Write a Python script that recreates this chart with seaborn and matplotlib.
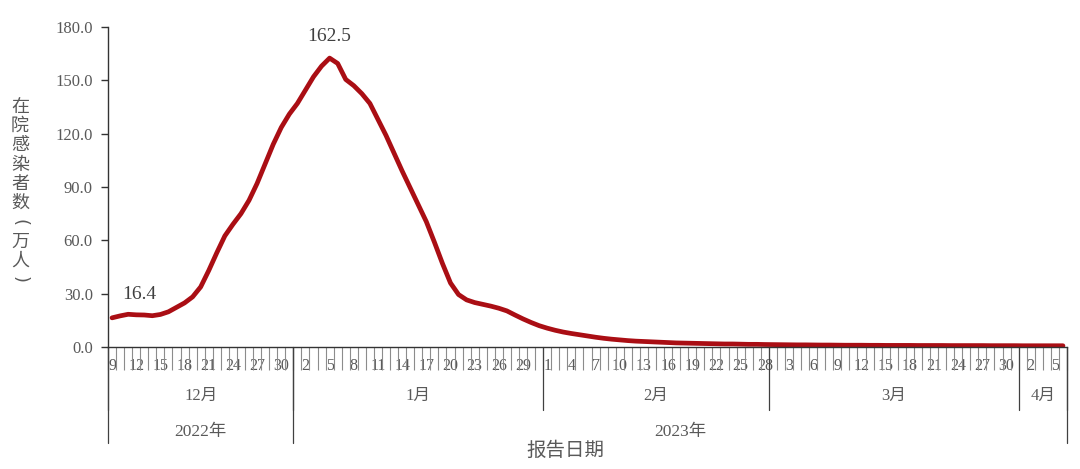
import numpy as np
import pandas as pd
import matplotlib
matplotlib.use("Agg")
import matplotlib.pyplot as plt
import seaborn as sns

# ---------------- data ----------------
start_date = "2022-12-09"
end_date = "2023-04-06"

dec_vals = [16.4, 17.5, 18.4, 18.1, 18.0, 17.6, 18.3, 19.8, 22.3, 24.8, 28.2, 33.8,
            43.0, 53.0, 62.5, 69.0, 75.0, 82.5, 92.0, 103.0, 114.0, 123.5, 131.0]
jan_vals = [137.0, 144.5, 152.0, 158.0, 162.5, 159.5, 150.5, 147.0, 142.5, 137.0,
            128.0, 119.0, 109.0, 99.0, 89.5, 80.0, 70.5, 59.0, 47.0, 36.0,
            29.5, 26.5, 25.0, 24.0, 23.0, 21.8, 20.3, 18.0, 15.8, 13.8, 12.0]
feb_vals = [10.6, 9.4, 8.4, 7.6, 6.9, 6.2, 5.5, 4.9, 4.4, 4.0, 3.6, 3.3, 3.1, 2.9,
            2.7, 2.5, 2.3, 2.2, 2.1, 2.0, 1.9, 1.8, 1.7, 1.7, 1.6, 1.5, 1.5, 1.4]
mar_vals = [1.35, 1.3, 1.25, 1.2, 1.2, 1.15, 1.1, 1.1, 1.05, 1.0, 1.0, 1.0, 0.95,
            0.95, 0.9, 0.9, 0.9, 0.9, 0.85, 0.85, 0.85, 0.85, 0.8, 0.8, 0.8, 0.8,
            0.8, 0.75, 0.75, 0.75, 0.75]
apr_vals = [0.7, 0.7, 0.7, 0.7, 0.7, 0.7]

yticks = [0, 30, 60, 90, 120, 150, 180]
annot_days = ["2022-12-09", "2023-01-05"]
ylabel_chars = ["在", "院", "感", "染", "者", "数", "(", "万", "人", ")"]
xlabel_text = "报告日期"

# ---------------- build ----------------
dates = pd.date_range(start_date, end_date, freq="D")
values = dec_vals + jan_vals + feb_vals + mar_vals + apr_vals
df = pd.DataFrame({"date": dates, "value": values})
df["pos"] = np.arange(len(df))

sns.set_style("ticks")
plt.rcParams["font.family"] = ["Liberation Serif", "Noto Sans CJK SC", "DejaVu Sans"]

GRAY = "#595959"
RED = "#AA0E14"

fig = plt.figure(figsize=(10.8, 4.69), dpi=100)
ax = fig.add_axes([108 / 1080, 122 / 469, (1067 - 108) / 1080, 320 / 469])

sns.lineplot(data=df, x="pos", y="value", color=RED, linewidth=3.4, ax=ax)

n = len(df)
ax.set_xlim(-0.5, n - 0.5)
ax.set_ylim(0, 180)
ax.set_yticks(yticks)
ax.set_yticklabels([f"{v:.1f}" for v in yticks], color=GRAY, fontsize=12)
ax.tick_params(axis="y", direction="out", length=5, width=1, color="#333333", pad=6)

# x labels every 3 days at category centres, ticks at category boundaries
lab_pos = df["pos"].values[::3]
ax.set_xticks(lab_pos)
ax.set_xticklabels([str(d.day) for d in df["date"].iloc[::3]], color=GRAY, fontsize=11.5)
ax.tick_params(axis="x", which="major", length=0, pad=8)
ax.set_xticks(np.arange(-0.5, n, 1.0), minor=True)
ax.tick_params(axis="x", which="minor", length=16.5, width=0.8, color="#8c8c8c")

ax.set_xlabel("")
ax.set_ylabel("")
sns.despine(ax=ax, top=True, right=True)
for s in ["left", "bottom"]:
    ax.spines[s].set_color("#333333")
    ax.spines[s].set_linewidth(1.0)

trans = ax.get_xaxis_transform()
month_y = -63 / 320
year_y = -96 / 320

# month boundaries
first_of_month = list(df.index[df["date"].dt.day == 1])
m_bounds = [-0.5] + [p - 0.5 for p in first_of_month] + [n - 0.5]
for b in m_bounds:
    ax.plot([b, b], [0, month_y], transform=trans, color="#404040", lw=0.9, clip_on=False)
for a, b in zip(m_bounds[:-1], m_bounds[1:]):
    mon = df["date"].iloc[int(a + 0.5)].month
    ax.text((a + b) / 2, -49 / 320, f"{mon}月", transform=trans, ha="center", va="center",
            color=GRAY, fontsize=12)

# year boundaries
first_of_year = list(df.index[(df["date"].dt.day == 1) & (df["date"].dt.month == 1)])
y_bounds = [-0.5] + [p - 0.5 for p in first_of_year] + [n - 0.5]
for b in y_bounds:
    ax.plot([b, b], [0, year_y], transform=trans, color="#404040", lw=0.9, clip_on=False)
for a, b in zip(y_bounds[:-1], y_bounds[1:]):
    yr = df["date"].iloc[int(a + 0.5)].year
    ax.text((a + b) / 2, -85 / 320, f"{yr}年", transform=trans, ha="center", va="center",
            color=GRAY, fontsize=12.5)

# annotations
for d in annot_days:
    row = df[df["date"] == pd.Timestamp(d)].iloc[0]
    first = row["pos"] == 0
    ax.annotate(f"{row['value']:.1f}", (row["pos"], row["value"]),
                xytext=(7, 11) if first else (0, 9.5),
                textcoords="offset points", ha="left" if first else "center",
                va="bottom", color="#404040", fontsize=14)

# vertical stacked y label
for k, ch in enumerate(ylabel_chars):
    ypix = 107 + 19.2 * k
    if ch in "()":
        fig.text(20 / 1080, 1 - ypix / 469, ch, ha="center", va="center", rotation=-90,
                 color=GRAY, fontsize=13, family=["DejaVu Sans"])
    else:
        fig.text(20 / 1080, 1 - ypix / 469, ch, ha="center", va="center",
                 color=GRAY, fontsize=13, family=["Noto Sans CJK SC", "DejaVu Sans"])

fig.text(565 / 1080, (469 - 450) / 469, xlabel_text, ha="center", va="center",
         color=GRAY, fontsize=14, family=["Noto Sans CJK SC", "DejaVu Sans"])

fig.savefig("out.png", dpi=100, facecolor="white")
